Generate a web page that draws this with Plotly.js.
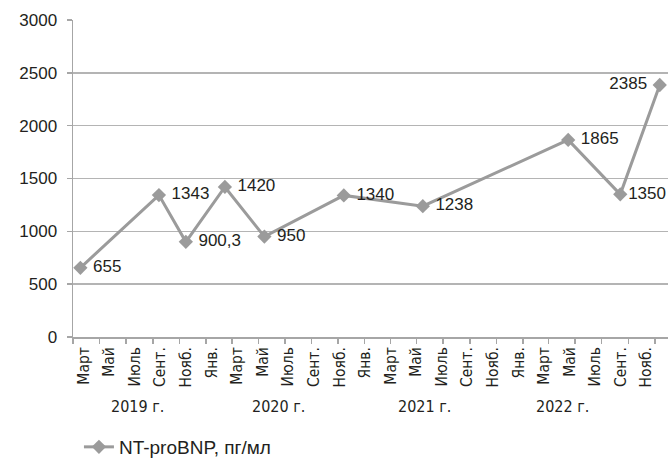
<!DOCTYPE html>
<html>
<head>
<meta charset="utf-8">
<script src="https://cdn.plot.ly/plotly-3.0.1.min.js"></script>
<style>
  html, body { margin: 0; padding: 0; background: #ffffff; }
  #chart { width: 669px; height: 460px; }
</style>
</head>
<body>
<div id="chart"></div>
<script>
// ---- data ----
const seriesName = 'NT-proBNP, пг/мл';
const dates = ['2019-03-18', '2019-09-15', '2019-11-16', '2020-02-14', '2020-05-15',
               '2020-11-14', '2021-05-15', '2022-04-15', '2022-08-13', '2022-11-12'];
const values = [655, 1343, 900.3, 1420, 950, 1340, 1238, 1865, 1350, 2385];
const monthLabels = ['Март', 'Май', 'Июль', 'Сент.', 'Нояб.',
                     'Янв.', 'Март', 'Май', 'Июль', 'Сент.', 'Нояб.',
                     'Янв.', 'Март', 'Май', 'Июль', 'Сент.', 'Нояб.',
                     'Янв.', 'Март', 'Май', 'Июль', 'Сент.', 'Нояб.'];
const yearLabels = ['2019 г.', '2020 г.', '2021 г.', '2022 г.'];
const yTicks = [0, 500, 1000, 1500, 2000, 2500, 3000];

// ---- layout helpers ----
const t0 = Date.UTC(2019, 2, 1), t1 = Date.UTC(2022, 11, 1);
const W = 595;
function iso(ms) { return new Date(ms).toISOString().slice(0, 19).replace('T', ' '); }
const boundaryTicks = [];
for (let k = 0; k < 23; k++) {
  const y = 2019 + Math.floor((2 + 2 * k) / 12), m = (2 + 2 * k) % 12;
  boundaryTicks.push(iso(Date.UTC(y, m, 1)));
}
const labelTicks = monthLabels.map((_, k) => iso(t0 + (10.7 + 25.58 * k) / W * (t1 - t0)));
const yearX = [137, 278, 424, 562].map(px => (px - 73) / W);

const textFont = { family: 'Liberation Sans, Arial, sans-serif', size: 17, color: '#231f20' };
const narrowFont = 'Liberation Sans Narrow, Arial Narrow, DejaVu Sans Condensed, sans-serif';
const last = values.length - 1;
const textPos = values.map((v, i) => i === last ? 'middle left' : 'middle right');
const labels = values.map((v, i) => {
  const s = String(v).replace('.', ',');
  if (i === last) return s + '\u00A0';
  if (i === last - 1) return s;
  return '\u00A0' + s;
});

const trace = {
  type: 'scatter', mode: 'lines+markers+text',
  x: dates, y: values, name: seriesName,
  text: labels,
  textposition: textPos,
  textfont: textFont,
  line: { color: '#9b9b9b', width: 3 },
  marker: { symbol: 'diamond', size: 11, color: '#9b9b9b' },
  cliponaxis: false
};
const dummy = { type: 'scatter', x: [], y: [], xaxis: 'x2', showlegend: false, hoverinfo: 'skip' };

const layout = {
  width: 669, height: 460,
  margin: { l: 73, r: 1, t: 19.5, b: 122.5, autoexpand: false },
  paper_bgcolor: '#ffffff', plot_bgcolor: '#ffffff',
  showlegend: true,
  legend: { orientation: 'h', x: 0.01, xanchor: 'left', y: -0.347, yanchor: 'middle',
            font: { family: 'Liberation Sans, Arial, sans-serif', size: 19, color: '#231f20' } },
  xaxis: {
    type: 'date', range: [iso(t0), iso(t1)], automargin: false,
    tickmode: 'array', tickvals: boundaryTicks, showticklabels: false,
    ticks: 'outside', ticklen: 5, tickwidth: 1.5, tickcolor: '#a6a6a6',
    showgrid: false, zeroline: false,
    showline: true, linecolor: '#a6a6a6', linewidth: 1.5
  },
  xaxis2: {
    type: 'date', range: [iso(t0), iso(t1)], overlaying: 'x', anchor: 'y', side: 'bottom',
    automargin: false,
    tickmode: 'array', tickvals: labelTicks, ticktext: monthLabels,
    tickangle: -90, ticks: '', ticklabelstandoff: 6,
    tickfont: { family: narrowFont, size: 15.5, color: '#231f20' },
    showgrid: false, zeroline: false, showline: false
  },
  yaxis: {
    range: [0, 3000], tickmode: 'array', tickvals: yTicks, automargin: false,
    ticks: 'outside', ticklen: 5, tickwidth: 1.5, tickcolor: '#a6a6a6',
    tickfont: textFont, ticklabelstandoff: 6,
    showgrid: true, gridcolor: '#b4b4b4', gridwidth: 1.5,
    zeroline: false, showline: true, linecolor: '#a6a6a6', linewidth: 1.5
  },
  annotations: yearLabels.map((t, i) => ({
    text: t, xref: 'paper', yref: 'paper', x: yearX[i], y: -0.219,
    xanchor: 'center', yanchor: 'middle', showarrow: false,
    font: { family: narrowFont, size: 16, color: '#231f20' }
  }))
};

Plotly.newPlot('chart', [trace, dummy], layout, { staticPlot: true, displayModeBar: false });
</script>
</body>
</html>
